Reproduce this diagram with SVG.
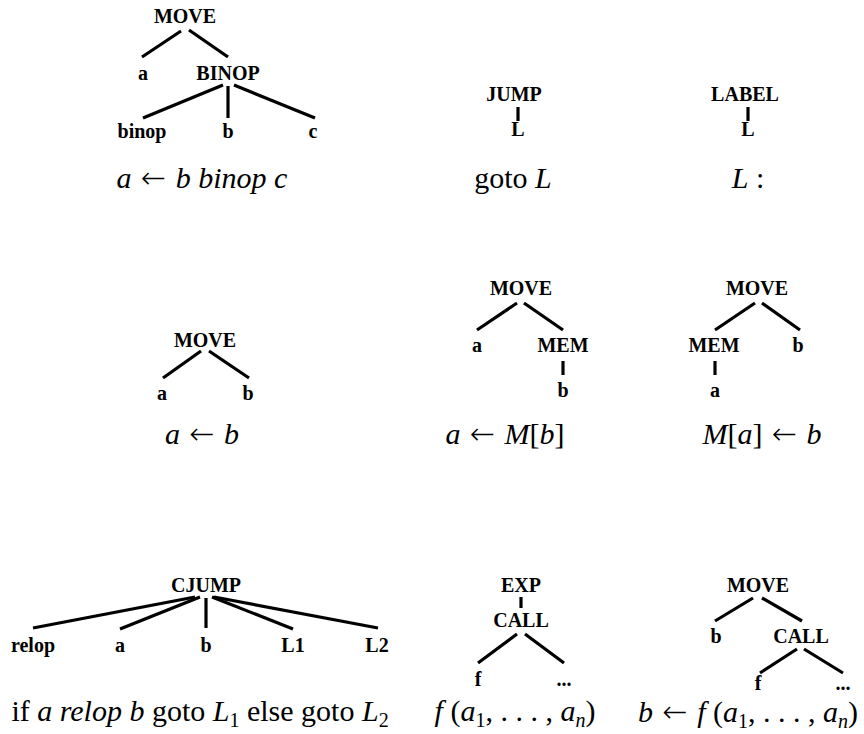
<svg xmlns="http://www.w3.org/2000/svg" width="864" height="734" viewBox="0 0 864 734">
<style>
.n{font-family:"Liberation Serif","Times New Roman",serif;font-weight:bold;font-size:20px;text-anchor:middle;fill:#000}
.c{font-family:"Liberation Serif","Times New Roman",serif;font-size:30px;text-anchor:middle;fill:#000}
.i{font-style:italic}
.s{font-size:20px}
.a{font-family:"DejaVu Sans",sans-serif;font-weight:200;font-size:30px}
.e line{stroke:#000;stroke-width:3.2;stroke-linecap:butt}
</style>
<rect width="864" height="734" fill="#fff"/>
<g id="connectors" class="e">
<line x1="181" y1="31" x2="142" y2="57"/><line x1="189" y1="30" x2="228" y2="57"/>
<line x1="223" y1="85" x2="143" y2="118"/><line x1="228" y1="86" x2="228" y2="118"/><line x1="234" y1="85" x2="315" y2="118"/>
<line x1="518" y1="107" x2="518" y2="121"/>
<line x1="748" y1="107" x2="748" y2="121"/>
<line x1="201" y1="351" x2="163" y2="378"/><line x1="209" y1="351" x2="249" y2="378"/>
<line x1="517" y1="303" x2="477" y2="330"/><line x1="524" y1="303" x2="563" y2="330"/><line x1="563" y1="361" x2="563" y2="375"/>
<line x1="755" y1="303" x2="715" y2="330"/><line x1="762" y1="303" x2="800" y2="330"/><line x1="715" y1="361" x2="715" y2="375"/>
<line x1="195" y1="597" x2="33" y2="628"/><line x1="200" y1="597" x2="120" y2="629"/><line x1="206" y1="598" x2="206" y2="628"/><line x1="212" y1="597" x2="293" y2="629"/><line x1="214" y1="597" x2="378" y2="628"/>
<line x1="521" y1="597" x2="521" y2="608"/><line x1="517" y1="634" x2="478" y2="663"/><line x1="525" y1="634" x2="564" y2="663"/>
<line x1="753" y1="598" x2="715" y2="621"/><line x1="762" y1="598" x2="802" y2="621"/><line x1="797" y1="649" x2="760" y2="673"/><line x1="804" y1="649" x2="843" y2="673"/>
</g>
<g id="tree-binop">
<text class="n" x="185" y="23">MOVE</text><text class="n" x="143" y="80">a</text><text class="n" x="228" y="80">BINOP</text>
<text class="n" x="142" y="138">binop</text><text class="n" x="228" y="138">b</text><text class="n" x="313" y="138">c</text>
<text class="c" x="202" y="188"><tspan class="i">a</tspan> <tspan class="a" dx="2">←</tspan> <tspan class="i" dx="2">b binop c</tspan></text>
</g>
<g id="tree-jump">
<text class="n" x="514" y="101">JUMP</text><text class="n" x="518" y="136">L</text>
<text class="c" x="513" y="188">goto <tspan class="i">L</tspan></text>
</g>
<g id="tree-label">
<text class="n" x="745" y="101">LABEL</text><text class="n" x="748" y="136">L</text>
<text class="c" x="748" y="188"><tspan class="i">L</tspan> :</text>
</g>
<g id="tree-move">
<text class="n" x="205" y="347">MOVE</text><text class="n" x="162" y="400">a</text><text class="n" x="248" y="400">b</text>
<text class="c" x="202" y="444"><tspan class="i">a</tspan> <tspan class="a" dx="2">←</tspan> <tspan class="i" dx="2">b</tspan></text>
</g>
<g id="tree-load">
<text class="n" x="521" y="295">MOVE</text><text class="n" x="477" y="352">a</text><text class="n" x="563" y="352">MEM</text><text class="n" x="563" y="397">b</text>
<text class="c" x="505" y="444"><tspan class="i">a</tspan> <tspan class="a" dx="2">←</tspan> <tspan class="i" dx="2">M</tspan>[<tspan class="i">b</tspan>]</text>
</g>
<g id="tree-store">
<text class="n" x="757" y="295">MOVE</text><text class="n" x="714" y="352">MEM</text><text class="n" x="798" y="352">b</text><text class="n" x="715" y="397">a</text>
<text class="c" x="762" y="444"><tspan class="i">M</tspan>[<tspan class="i">a</tspan>] <tspan class="a" dx="2">←</tspan> <tspan class="i" dx="2">b</tspan></text>
</g>
<g id="tree-cjump">
<text class="n" x="206" y="592">CJUMP</text>
<text class="n" x="33" y="652">relop</text><text class="n" x="120" y="652">a</text><text class="n" x="206" y="652">b</text><text class="n" x="293" y="652">L1</text><text class="n" x="377" y="652">L2</text>
<text class="c" x="200" y="721">if <tspan class="i">a relop b</tspan> goto <tspan class="i">L</tspan><tspan class="s" dy="6">1</tspan><tspan dy="-6"> else goto </tspan><tspan class="i">L</tspan><tspan class="s" dy="6">2</tspan></text>
</g>
<g id="tree-exp">
<text class="n" x="521" y="592">EXP</text><text class="n" x="521" y="627">CALL</text>
<text class="n" x="478" y="686">f</text><text class="n" x="564" y="686">...</text>
<text class="c" x="515" y="721"><tspan class="i">f</tspan> (<tspan class="i">a</tspan><tspan class="s" dy="6">1</tspan><tspan dy="-6">, . . . , </tspan><tspan class="i">a</tspan><tspan class="s i" dy="6">n</tspan><tspan dy="-6">)</tspan></text>
</g>
<g id="tree-movecall">
<text class="n" x="758" y="592">MOVE</text><text class="n" x="716" y="643">b</text><text class="n" x="801" y="643">CALL</text>
<text class="n" x="758" y="690">f</text><text class="n" x="843" y="690">...</text>
<text class="c" x="748" y="722"><tspan class="i">b</tspan> <tspan class="a" dx="2">←</tspan> <tspan class="i" dx="2">f</tspan> (<tspan class="i">a</tspan><tspan class="s" dy="6">1</tspan><tspan dy="-6">, . . . , </tspan><tspan class="i">a</tspan><tspan class="s i" dy="6">n</tspan><tspan dy="-6">)</tspan></text>
</g>
</svg>
